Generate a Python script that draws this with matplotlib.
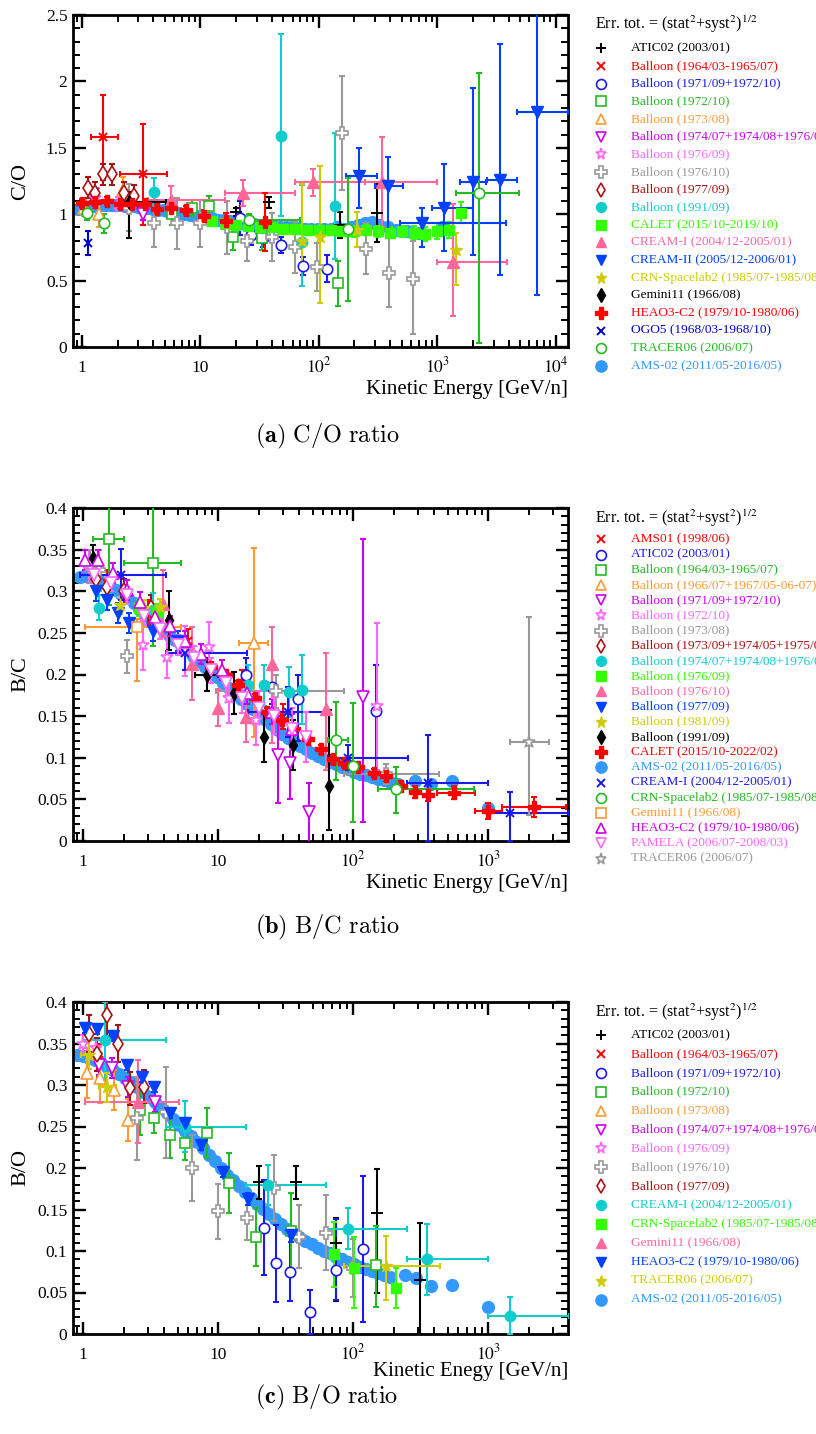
import numpy as np
import matplotlib
matplotlib.use('Agg')
import matplotlib.pyplot as plt
from matplotlib.lines import Line2D
from matplotlib.ticker import LogLocator, MultipleLocator, FuncFormatter, NullFormatter

plt.rcParams['font.family'] = ['Liberation Serif', 'DejaVu Serif']
plt.rcParams['mathtext.fontset'] = 'stix'

# ======================= DATA : C/O =======================
CO_ATIC_E = [20, 38, 150, 310]
CO_ATIC_R = [1.02, 1.09, 0.92, 1.01]
CO_ATIC_ERR = [0.03, 0.04, 0.1, 0.22]

CO_B64_E = [1.5, 3.25]
CO_B64_R = [1.58, 1.30]
CO_B64_ERR = [0.32, 0.38]
CO_B64_XLO = [1.2, 2.09]
CO_B64_XHI = [2.0, 5.2]

CO_B71_E = [21.5, 27, 33.5, 48, 73, 118]
CO_B71_R = [0.97, 0.84, 0.82, 0.77, 0.61, 0.59]
CO_B71_ERR = [0.13, 0.07, 0.07, 0.06, 0.07, 0.1]

CO_B72_E = [5.8, 8.5, 11.8, 18.8, 33, 145]
CO_B72_R = [1.0, 1.05, 1.06, 0.83, 0.82, 0.48]
CO_B72_ERR = [0.08, 0.06, 0.08, 0.1, 0.09, 0.17]

CO_B73_E = [1.05, 1.4, 2.2]
CO_B73_R = [1.05, 1.0, 1.18]
CO_B73_ERR = [0.06, 0.1, 0.1]

CO_B74_E = [1.25, 3.3]
CO_B74_R = [1.15, 1.0]
CO_B74_ERR = [0.04, 0.04]

CO_B76A_E = [1.3, 2.0]
CO_B76A_R = [1.12, 1.08]
CO_B76A_ERR = [0.05, 0.05]

CO_B76B_E = [2.5, 4.05, 6.3, 9.9, 16.7, 24.6, 40, 63, 96, 156, 250, 390, 620]
CO_B76B_R = [1.05, 0.93, 0.93, 0.93, 0.9, 0.8, 0.83, 0.75, 0.6, 1.61, 0.74, 0.56, 0.51]
CO_B76B_ERR = [0.18, 0.18, 0.19, 0.18, 0.2, 0.15, 0.18, 0.19, 0.18, 0.43, 0.19, 0.26, (0.41, 0.29)]

CO_B77_E = [1.13, 1.3, 1.5, 1.8, 2.26, 2.75]
CO_B77_R = [1.2, 1.16, 1.3, 1.3, 1.16, 1.14]
CO_B77_ERR = [0.08, 0.08, 0.08, 0.08, 0.08, 0.08]

CO_B91_E = [4.05, 48, 72, 137]
CO_B91_R = [1.17, 1.59, 0.79, 1.06]
CO_B91_ERR = [0.1, (0.6, 0.77), (0.33, 0.43), (0.4, 0.55)]

CO_CALET_E = [12.5, 16, 20, 25, 32, 40, 50, 63, 79, 100, 126, 158, 200, 251, 316, 398, 501, 631, 794, 1000, 1260, 1600]
CO_CALET_R = [0.95, 0.93, 0.92, 0.91, 0.9, 0.9, 0.89, 0.89, 0.88, 0.88, 0.88, 0.87, 0.87, 0.88, 0.87, 0.86, 0.87, 0.86, 0.85, 0.87, 0.88, 1.01]
CO_CALET_ERR = [0.03, 0.03, 0.03, 0.03, 0.03, 0.03, 0.03, 0.03, 0.03, 0.03, 0.03, 0.03, 0.04, 0.04, 0.04, 0.04, 0.04, 0.05, 0.05, 0.06, 0.06, 0.08]

CO_CREAM1_E = [5.7, 23, 89, 340, 1350]
CO_CREAM1_R = [1.11, 1.16, 1.24, 1.24, 0.64]
CO_CREAM1_ERR = [0.1, 0.1, 0.1, 0.34, (0.41, 0.44)]
CO_CREAM1_XLO = [3.6, 16, 63, 245, 1000]
CO_CREAM1_XHI = [16, 63, 245, 1000, 3900]

CO_CREAM2_E = [220, 380, 740, 1150, 2000, 3400, 7000]
CO_CREAM2_R = [1.29, 1.21, 0.93, 1.05, 1.24, 1.26, 1.77]
CO_CREAM2_ERR = [(0.24, 0.21), (0.33, 0.22), (0.18, 0.12), 0.33, (0.55, 0.71), (0.72, 1.02), (1.38, 1.2)]
CO_CREAM2_XLO = [170, 300, 480, 900, 1550, 2650, 4700]
CO_CREAM2_XHI = [310, 510, 3800, 2000, 2600, 4700, 12800]

CO_CRN_E = [72, 102, 210, 1450]
CO_CRN_R = [0.8, 0.83, 0.88, 0.73]
CO_CRN_ERR = [(0.17, 0.43), (0.5, 0.53), (0.13, 0.14), (0.26, 0.13)]

CO_GEM_E = [2.5]
CO_GEM_R = [1.09]
CO_GEM_ERR = [(0.27, 0.08)]
CO_GEM_XLO = [1.3]
CO_GEM_XHI = [5.1]

CO_HEAO_E = [1.0, 1.29, 1.63, 2.09, 2.64, 3.4, 4.3, 5.7, 7.5, 10.7, 16.4, 35]
CO_HEAO_R = [1.085, 1.09, 1.10, 1.08, 1.08, 1.08, 1.04, 1.05, 1.03, 0.99, 0.95, 0.94]
CO_HEAO_ERR = [0.03, 0.03, 0.03, 0.03, 0.03, 0.03, 0.03, 0.03, 0.03, 0.04, 0.06, 0.22]

CO_OGO_E = [1.13]
CO_OGO_R = [0.78]
CO_OGO_ERR = [0.09]

CO_TRACER_E = [1.1, 1.53, 25.6, 175, 2250]
CO_TRACER_R = [1.01, 0.93, 0.96, 0.89, 1.16]
CO_TRACER_ERR = [0.05, 0.07, 0.04, (0.54, 0.38), (1.13, 0.9)]
CO_TRACER_XLO = [1.1, 1.53, 9.5, 88, 1450]
CO_TRACER_XHI = [1.1, 1.53, 69, 400, 4900]

CO_AMS_E = [0.92, 1.0, 1.1, 1.2, 1.3, 1.45, 1.6, 1.75, 1.9, 2.1, 2.3, 2.5, 2.75, 3.0, 3.3, 3.6, 4.0, 4.4,
            4.9, 5.4, 6.0, 6.6, 7.3, 8.1, 9.0, 10.0, 11.2, 12.6, 14.1, 15.9, 17.8, 20.0, 22.5, 25.3, 28.6,
            32.3, 36.5, 41.2, 46.6, 52.7, 59.6, 67.4, 76.4, 86.6, 98.1, 111, 126, 143, 163, 186, 213, 245,
            282, 325, 380, 450, 550, 700, 1100]
CO_AMS_R = [1.04, 1.05, 1.055, 1.06, 1.065, 1.07, 1.07, 1.07, 1.07, 1.07, 1.065, 1.065, 1.06, 1.055, 1.05,
            1.045, 1.04, 1.035, 1.03, 1.02, 1.015, 1.01, 1.0, 0.995, 0.99, 0.985, 0.975, 0.97, 0.96, 0.955,
            0.95, 0.94, 0.935, 0.93, 0.925, 0.92, 0.915, 0.91, 0.905, 0.9, 0.9, 0.895, 0.89, 0.89, 0.885,
            0.89, 0.885, 0.9, 0.89, 0.9, 0.92, 0.935, 0.94, 0.92, 0.9, 0.88, 0.87, 0.86, 0.9]

# ======================= DATA : B/C =======================
BC_AMS01_E = [1.5, 3.0, 6.0, 15, 30]
BC_AMS01_R = [0.31, 0.275, 0.24, 0.19, 0.15]
BC_AMS01_ERR = [0.015, 0.015, 0.015, 0.015, 0.015]

BC_ATIC_E = [16, 25, 39, 148]
BC_ATIC_R = [0.2, 0.185, 0.17, 0.156]
BC_ATIC_ERR = [0.02, 0.02, (0.05, 0.03), (0.074, 0.055)]

BC_B64_E = [1.56, 3.3]
BC_B64_R = [0.363, 0.334]
BC_B64_ERR = [(0.08, 0.05), (0.1, 0.1)]
BC_B64_XLO = [1.19, 2.02]
BC_B64_XHI = [2.02, 5.3]

BC_B66_E = [18.4]
BC_B66_R = [0.238]
BC_B66_ERR = [(0.113, 0.114)]
BC_B66_XLO = [14.2]
BC_B66_XHI = [23.3]

BC_B71_E = [27.5, 34, 47, 118]
BC_B71_R = [0.103, 0.094, 0.035, 0.173]
BC_B71_ERR = [(0.057, 0.052), (0.044, 0.036), (0.04, 0.035), (0.15, 0.19)]

BC_B72_E = [1.1, 2.75, 4.2, 5.7, 8.5, 12, 19, 150]
BC_B72_R = [0.33, 0.235, 0.221, 0.228, 0.233, 0.172, 0.145, 0.162]
BC_B72_ERR = [0.02, 0.03, 0.025, 0.03, 0.03, 0.03, 0.03, (0.077, 0.1)]

BC_B73A_E = [1.13, 1.3, 2.1, 27, 175]
BC_B73A_R = [0.33, 0.325, 0.222, 0.18, 0.08]
BC_B73A_ERR = [0.02, 0.025, 0.02, 0.02, 0.012]
BC_B73A_XLO = [1.13, 1.3, 2.1, 9.6, 85]
BC_B73A_XHI = [1.13, 1.3, 2.1, 85, 435]

BC_B73B_E = [1.25, 1.5, 2.0, 3.2]
BC_B73B_R = [0.315, 0.305, 0.3, 0.28]
BC_B73B_ERR = [0.015, 0.015, 0.015, 0.015]

BC_B74_E = [1.3, 3.3, 16.6, 22, 33.5, 42]
BC_B74_R = [0.28, 0.278, 0.187, 0.187, 0.179, 0.181]
BC_B74_ERR = [0.015, 0.02, 0.025, 0.025, 0.03, (0.04, 0.042)]

BC_B76A_E = [2.6, 3.5]
BC_B76A_R = [0.28, 0.275]
BC_B76A_ERR = [0.01, 0.01]

BC_B76B_E = [3.9, 6.4, 10, 16, 25, 63]
BC_B76B_R = [0.285, 0.213, 0.16, 0.149, 0.213, 0.158]
BC_B76B_ERR = [0.04, 0.044, 0.022, 0.03, (0.095, 0.044), (0.073, 0.068)]

BC_B77_E = [1.25, 1.5, 1.8, 2.2, 3.3, 5.0]
BC_B77_R = [0.3, 0.29, 0.274, 0.262, 0.252, 0.24]
BC_B77_ERR = [0.012, 0.012, 0.012, 0.012, 0.012, 0.012]

BC_B81_E = [1.88, 2.8, 3.7]
BC_B81_R = [0.283, 0.28, 0.281]
BC_B81_ERR = [0.01, 0.01, 0.01]

BC_B91_E = [1.19, 4.3, 8.3, 13, 22, 36, 66]
BC_B91_R = [0.34, 0.265, 0.2, 0.178, 0.125, 0.115, 0.066]
BC_B91_ERR = [0.015, 0.035, 0.02, 0.025, 0.03, 0.03, (0.053, 0.091)]
BC_B91_XLO = [1.19, 4.3, 6.7, 13, 22, 36, 66]
BC_B91_XHI = [1.19, 4.3, 10, 13, 22, 36, 66]

BC_CALET_E = [8.9, 11.4, 14, 18.6, 23, 29.5, 36.5, 46, 58, 71, 85, 108, 142, 175, 227, 285, 360, 560, 1000, 2200]
BC_CALET_R = [0.209, 0.2, 0.187, 0.172, 0.155, 0.145, 0.134, 0.122, 0.11, 0.098, 0.094, 0.089, 0.082, 0.078,
              0.066, 0.059, 0.055, 0.058, 0.036, 0.041]
BC_CALET_ERR = [0.005, 0.005, 0.005, 0.005, 0.005, 0.005, 0.005, 0.005, 0.005, 0.005, 0.005, 0.005, 0.005,
                0.006, 0.006, 0.007, 0.007, 0.008, 0.01, 0.012]
BC_CALET_XLO = [8.9, 11.4, 14, 18.6, 23, 29.5, 36.5, 46, 58, 71, 85, 108, 142, 175, 227, 285, 360, 420, 800, 1260]
BC_CALET_XHI = [8.9, 11.4, 14, 18.6, 23, 29.5, 36.5, 46, 58, 71, 85, 108, 142, 175, 227, 285, 360, 800, 1260, 3800]

BC_AMS_E = [0.95, 1.05, 1.16, 1.28, 1.42, 1.57, 1.74, 1.92, 2.13, 2.36, 2.61, 2.89, 3.2, 3.54, 3.92, 4.34,
            4.8, 5.31, 5.88, 6.51, 7.2, 7.97, 8.82, 9.76, 10.8, 12, 13.3, 14.7, 16.3, 18, 19.9, 22, 24.4,
            27, 29.9, 33, 36.6, 40.5, 44.8, 49.6, 54.9, 60.8, 67.3, 74.5, 82.5, 91.3, 101, 112, 124, 137,
            152, 168, 186, 215, 285, 380, 535, 1000]
BC_AMS_R = [0.317, 0.318, 0.318, 0.315, 0.31, 0.306, 0.302, 0.297, 0.292, 0.286, 0.279, 0.272, 0.266,
            0.26, 0.254, 0.248, 0.242, 0.236, 0.229, 0.222, 0.216, 0.209, 0.203, 0.197, 0.19, 0.184, 0.177,
            0.171, 0.164, 0.158, 0.152, 0.146, 0.14, 0.135, 0.129, 0.124, 0.119, 0.114, 0.11, 0.106, 0.102,
            0.098, 0.095, 0.092, 0.089, 0.086, 0.083, 0.081, 0.079, 0.077, 0.075, 0.073, 0.071, 0.069,
            0.072, 0.068, 0.072, 0.040]

BC_CREAM1_E = [1.9, 5.7, 33, 92, 360, 1450]
BC_CREAM1_R = [0.32, 0.226, 0.155, 0.1, 0.07, 0.034]
BC_CREAM1_ERR = [0.031, 0.02, 0.03, 0.015, (0.07, 0.057), (0.034, 0.025)]
BC_CREAM1_XLO = [0.95, 4.1, 16.6, 65, 250, 1000]
BC_CREAM1_XHI = [4.1, 16.3, 65, 255, 1000, 4000]

BC_CRN_E = [75, 100, 208]
BC_CRN_R = [0.121, 0.09, 0.062]
BC_CRN_ERR = [(0.048, 0.046), (0.067, 0.076), (0.028, 0.027)]
BC_CRN_XLO = [65, 100, 153]
BC_CRN_XHI = [92, 100, 790]

BC_GEM_E = [2.5]
BC_GEM_R = [0.257]
BC_GEM_ERR = [(0.065, 0.01)]
BC_GEM_XLO = [1.03]
BC_GEM_XHI = [5.3]

BC_HEAO_E = [1.03, 1.29, 1.65, 2.1, 2.65, 3.4, 4.4, 5.7, 7.5, 10.6, 16.2, 25, 35]
BC_HEAO_R = [0.337, 0.338, 0.322, 0.302, 0.287, 0.269, 0.258, 0.24, 0.225, 0.205, 0.178, 0.155, 0.135]
BC_HEAO_ERR = [0.012, 0.012, 0.012, 0.012, 0.012, 0.012, 0.012, 0.012, 0.012, 0.012, 0.014, 0.015, 0.018]

BC_PAM_E = [1.2, 1.6, 2.1, 2.8, 3.7, 5, 6.6, 8.8, 11.5, 15, 20, 26, 35, 45]
BC_PAM_R = [0.32, 0.31, 0.295, 0.27, 0.255, 0.235, 0.22, 0.205, 0.19, 0.172, 0.16, 0.15, 0.135, 0.125]
BC_PAM_ERR = [0.01, 0.01, 0.01, 0.01, 0.012, 0.012, 0.014, 0.015, 0.016, 0.018, 0.02, 0.022, 0.025, 0.03]

BC_TRACER_E = [2000]
BC_TRACER_R = [0.119]
BC_TRACER_ERR = [(0.088, 0.15)]
BC_TRACER_XLO = [1450]
BC_TRACER_XHI = [2800]

# ======================= DATA : B/O =======================
BO_ATIC_E = [20, 38, 74, 150, 310]
BO_ATIC_R = [0.183, 0.183, 0.11, 0.146, 0.065]
BO_ATIC_ERR = [0.02, 0.02, (0.07, 0.03), (0.097, 0.053), (0.065, 0.069)]

BO_B64_E = [1.3]
BO_B64_R = [0.33]
BO_B64_ERR = [0.02]

BO_B71_E = [22, 27, 34, 48, 75, 118]
BO_B71_R = [0.128, 0.085, 0.075, 0.026, 0.077, 0.102]
BO_B71_ERR = [(0.057, 0.058), (0.047, 0.046), (0.035, 0.045), (0.026, 0.027), (0.036, 0.062), (0.087, 0.088)]

BO_B72_E = [2.65, 3.37, 4.4, 5.7, 8.3, 12, 19, 34.5, 148]
BO_B72_R = [0.27, 0.26, 0.24, 0.23, 0.242, 0.182, 0.117, 0.124, 0.083]
BO_B72_ERR = [0.03, 0.018, 0.028, 0.02, 0.03, 0.036, 0.035, 0.046, (0.05, 0.047)]

BO_B73_E = [1.07, 1.34, 1.68, 2.16]
BO_B73_R = [0.314, 0.308, 0.294, 0.258]
BO_B73_ERR = [0.03, 0.03, 0.024, 0.025]

BO_B74_E = [1.3, 1.64, 2.16, 3.4]
BO_B74_R = [0.324, 0.32, 0.298, 0.28]
BO_B74_ERR = [0.012, 0.012, 0.012, 0.012]

BO_B76A_E = [1.0, 1.25]
BO_B76A_R = [0.35, 0.345]
BO_B76A_ERR = [0.01, 0.01]

BO_B76B_E = [2.5, 4.1, 6.35, 10, 16.3, 25.8, 40, 63, 100]
BO_B76B_R = [0.26, 0.267, 0.2, 0.148, 0.14, 0.176, 0.117, 0.122, 0.08]
BO_B76B_ERR = [0.05, 0.055, 0.04, 0.033, 0.027, 0.04, 0.038, 0.045, 0.035]

BO_B77_E = [1.1, 1.27, 1.5, 1.8, 2.23, 2.8]
BO_B77_R = [0.362, 0.337, 0.384, 0.35, 0.296, 0.298]
BO_B77_ERR = [0.022, 0.02, 0.025, 0.022, 0.02, 0.02]

BO_CREAM1_E = [1.44, 5.7, 23.3, 92, 355, 1450]
BO_CREAM1_R = [0.354, 0.25, 0.18, 0.127, 0.09, 0.022]
BO_CREAM1_ERR = [(0.049, 0.046), 0.031, 0.024, 0.025, 0.043, 0.022]
BO_CREAM1_XLO = [1.0, 4.07, 16, 63, 250, 1000]
BO_CREAM1_XHI = [4.07, 16, 63, 250, 1000, 4000]

BO_CRN_E = [72, 102, 208]
BO_CRN_R = [0.096, 0.08, 0.056]
BO_CRN_ERR = [0.039, (0.049, 0.037), (0.025, 0.024)]

BO_GEM_E = [2.56]
BO_GEM_R = [0.28]
BO_GEM_ERR = [0.05]
BO_GEM_XLO = [1.03]
BO_GEM_XHI = [5.1]

BO_HEAO_E = [1.03, 1.27, 1.67, 2.12, 2.74, 3.37, 4.4, 5.7, 7.4, 10.8, 16.6, 34.6]
BO_HEAO_R = [0.369, 0.367, 0.359, 0.324, 0.31, 0.298, 0.266, 0.254, 0.228, 0.195, 0.163, 0.119]
BO_HEAO_ERR = [0.006, 0.006, 0.006, 0.006, 0.006, 0.006, 0.006, 0.006, 0.006, 0.006, 0.007, 0.008]

BO_TRACER_E = [1.1, 1.5, 175]
BO_TRACER_R = [0.336, 0.297, 0.082]
BO_TRACER_ERR = [0.017, 0.017, (0.041, 0.036)]
BO_TRACER_XLO = [0.97, 1.3, 85]
BO_TRACER_XHI = [1.25, 1.75, 440]

BO_AMS_E = [0.9, 1.0, 1.1, 1.22, 1.35, 1.5, 1.66, 1.84, 2.04, 2.26, 2.5, 2.77, 3.07, 3.4, 3.77, 4.18,
            4.63, 5.13, 5.69, 6.3, 6.98, 7.74, 8.57, 9.5, 10.5, 11.7, 12.9, 14.3, 15.9, 17.6, 19.5, 21.6,
            23.9, 26.5, 29.4, 32.6, 36.1, 40, 44.3, 49.1, 54.4, 60.3, 66.8, 74, 82, 91, 101, 112, 124,
            137, 152, 168, 186, 240, 292, 380, 535, 1000]
BO_AMS_R = [0.336, 0.335, 0.333, 0.33, 0.326, 0.322, 0.318, 0.313, 0.309, 0.304, 0.298, 0.292, 0.285,
            0.279, 0.273, 0.266, 0.259, 0.252, 0.245, 0.238, 0.231, 0.224, 0.216, 0.208, 0.2, 0.192, 0.185,
            0.178, 0.171, 0.164, 0.157, 0.151, 0.145, 0.139, 0.133, 0.127, 0.122, 0.117, 0.112, 0.108,
            0.104, 0.1, 0.097, 0.093, 0.09, 0.087, 0.084, 0.081, 0.078, 0.076, 0.073, 0.071, 0.069,
            0.071, 0.067, 0.058, 0.059, 0.033]

# ======================= STYLES =======================
K = '#000000'; RED = '#ff0000'; BLUE = '#1a1aee'; GREEN = '#22bb22'; ORANGE = '#ff9933'
PURPLE = '#cc00ee'; PINK = '#ff66ff'; GREY = '#999999'; DRED = '#aa1111'; CYAN = '#11cccc'
LGREEN = '#33ff00'; ROSE = '#ff6699'; BLUE2 = '#0040ff'; OLIVE = '#cccc00'; AMSB = '#3399ff'
OGOB = '#0000cc'

# marker, facecolor ('white' = open), markersize
ST = {
    'plus': ('+', None, 8), 'x': ('x', None, 6), 'o_open': ('o', 'white', 7.5),
    's_open': ('s', 'white', 7), '^_open': ('^', 'white', 8), 'v_open': ('v', 'white', 8),
    '*_open': ('*', 'white', 9.5), 'P_open': ('P', 'white', 8.5), 'd_open': ('d', 'white', 8),
    'o_fill': ('o', 'fill', 7.5), 's_fill': ('s', 'fill', 7), '^_fill': ('^', 'fill', 8),
    'v_fill': ('v', 'fill', 8), '*_fill': ('*', 'fill', 9.5), 'd_fill': ('d', 'fill', 7),
    'P_fill': ('P', 'fill', 9), 'ams': ('o', 'fill', 8.5),
}

CO_SERIES = [
    ('ATIC02 (2003/01)', CO_ATIC_E, CO_ATIC_R, CO_ATIC_ERR, None, None, K, 'plus'),
    ('Balloon (1964/03-1965/07)', CO_B64_E, CO_B64_R, CO_B64_ERR, CO_B64_XLO, CO_B64_XHI, RED, 'x'),
    ('Balloon (1971/09+1972/10)', CO_B71_E, CO_B71_R, CO_B71_ERR, None, None, BLUE, 'o_open'),
    ('Balloon (1972/10)', CO_B72_E, CO_B72_R, CO_B72_ERR, None, None, GREEN, 's_open'),
    ('Balloon (1973/08)', CO_B73_E, CO_B73_R, CO_B73_ERR, None, None, ORANGE, '^_open'),
    ('Balloon (1974/07+1974/08+1976/09)', CO_B74_E, CO_B74_R, CO_B74_ERR, None, None, PURPLE, 'v_open'),
    ('Balloon (1976/09)', CO_B76A_E, CO_B76A_R, CO_B76A_ERR, None, None, PINK, '*_open'),
    ('Balloon (1976/10)', CO_B76B_E, CO_B76B_R, CO_B76B_ERR, None, None, GREY, 'P_open'),
    ('Balloon (1977/09)', CO_B77_E, CO_B77_R, CO_B77_ERR, None, None, DRED, 'd_open'),
    ('Balloon (1991/09)', CO_B91_E, CO_B91_R, CO_B91_ERR, None, None, CYAN, 'o_fill'),
    ('CALET (2015/10-2019/10)', CO_CALET_E, CO_CALET_R, CO_CALET_ERR, None, None, LGREEN, 's_fill'),
    ('CREAM-I (2004/12-2005/01)', CO_CREAM1_E, CO_CREAM1_R, CO_CREAM1_ERR, CO_CREAM1_XLO, CO_CREAM1_XHI, ROSE, '^_fill'),
    ('CREAM-II (2005/12-2006/01)', CO_CREAM2_E, CO_CREAM2_R, CO_CREAM2_ERR, CO_CREAM2_XLO, CO_CREAM2_XHI, BLUE2, 'v_fill'),
    ('CRN-Spacelab2 (1985/07-1985/08)', CO_CRN_E, CO_CRN_R, CO_CRN_ERR, None, None, OLIVE, '*_fill'),
    ('Gemini11 (1966/08)', CO_GEM_E, CO_GEM_R, CO_GEM_ERR, CO_GEM_XLO, CO_GEM_XHI, K, 'd_fill'),
    ('HEAO3-C2 (1979/10-1980/06)', CO_HEAO_E, CO_HEAO_R, CO_HEAO_ERR, None, None, RED, 'P_fill'),
    ('OGO5 (1968/03-1968/10)', CO_OGO_E, CO_OGO_R, CO_OGO_ERR, None, None, OGOB, 'x'),
    ('TRACER06 (2006/07)', CO_TRACER_E, CO_TRACER_R, CO_TRACER_ERR, CO_TRACER_XLO, CO_TRACER_XHI, GREEN, 'o_open'),
    ('AMS-02 (2011/05-2016/05)', CO_AMS_E, CO_AMS_R, None, None, None, AMSB, 'ams'),
]

BC_SERIES = [
    ('AMS01 (1998/06)', BC_AMS01_E, BC_AMS01_R, BC_AMS01_ERR, None, None, RED, 'x'),
    ('ATIC02 (2003/01)', BC_ATIC_E, BC_ATIC_R, BC_ATIC_ERR, None, None, BLUE, 'o_open'),
    ('Balloon (1964/03-1965/07)', BC_B64_E, BC_B64_R, BC_B64_ERR, BC_B64_XLO, BC_B64_XHI, GREEN, 's_open'),
    ('Balloon (1966/07+1967/05-06-07)', BC_B66_E, BC_B66_R, BC_B66_ERR, BC_B66_XLO, BC_B66_XHI, ORANGE, '^_open'),
    ('Balloon (1971/09+1972/10)', BC_B71_E, BC_B71_R, BC_B71_ERR, None, None, PURPLE, 'v_open'),
    ('Balloon (1972/10)', BC_B72_E, BC_B72_R, BC_B72_ERR, None, None, PINK, '*_open'),
    ('Balloon (1973/08)', BC_B73A_E, BC_B73A_R, BC_B73A_ERR, BC_B73A_XLO, BC_B73A_XHI, GREY, 'P_open'),
    ('Balloon (1973/09+1974/05+1975/09)', BC_B73B_E, BC_B73B_R, BC_B73B_ERR, None, None, DRED, 'd_open'),
    ('Balloon (1974/07+1974/08+1976/09)', BC_B74_E, BC_B74_R, BC_B74_ERR, None, None, CYAN, 'o_fill'),
    ('Balloon (1976/09)', BC_B76A_E, BC_B76A_R, BC_B76A_ERR, None, None, LGREEN, 's_fill'),
    ('Balloon (1976/10)', BC_B76B_E, BC_B76B_R, BC_B76B_ERR, None, None, ROSE, '^_fill'),
    ('Balloon (1977/09)', BC_B77_E, BC_B77_R, BC_B77_ERR, None, None, BLUE2, 'v_fill'),
    ('Balloon (1981/09)', BC_B81_E, BC_B81_R, BC_B81_ERR, None, None, OLIVE, '*_fill'),
    ('Balloon (1991/09)', BC_B91_E, BC_B91_R, BC_B91_ERR, BC_B91_XLO, BC_B91_XHI, K, 'd_fill'),
    ('CALET (2015/10-2022/02)', BC_CALET_E, BC_CALET_R, BC_CALET_ERR, BC_CALET_XLO, BC_CALET_XHI, RED, 'P_fill'),
    ('AMS-02 (2011/05-2016/05)', BC_AMS_E, BC_AMS_R, None, None, None, AMSB, 'ams'),
    ('CREAM-I (2004/12-2005/01)', BC_CREAM1_E, BC_CREAM1_R, BC_CREAM1_ERR, BC_CREAM1_XLO, BC_CREAM1_XHI, BLUE, 'x'),
    ('CRN-Spacelab2 (1985/07-1985/08)', BC_CRN_E, BC_CRN_R, BC_CRN_ERR, BC_CRN_XLO, BC_CRN_XHI, GREEN, 'o_open'),
    ('Gemini11 (1966/08)', BC_GEM_E, BC_GEM_R, BC_GEM_ERR, BC_GEM_XLO, BC_GEM_XHI, ORANGE, 's_open'),
    ('HEAO3-C2 (1979/10-1980/06)', BC_HEAO_E, BC_HEAO_R, BC_HEAO_ERR, None, None, PURPLE, '^_open'),
    ('PAMELA (2006/07-2008/03)', BC_PAM_E, BC_PAM_R, BC_PAM_ERR, None, None, PINK, 'v_open'),
    ('TRACER06 (2006/07)', BC_TRACER_E, BC_TRACER_R, BC_TRACER_ERR, BC_TRACER_XLO, BC_TRACER_XHI, GREY, '*_open'),
]

BO_SERIES = [
    ('ATIC02 (2003/01)', BO_ATIC_E, BO_ATIC_R, BO_ATIC_ERR, None, None, K, 'plus'),
    ('Balloon (1964/03-1965/07)', BO_B64_E, BO_B64_R, BO_B64_ERR, None, None, RED, 'x'),
    ('Balloon (1971/09+1972/10)', BO_B71_E, BO_B71_R, BO_B71_ERR, None, None, BLUE, 'o_open'),
    ('Balloon (1972/10)', BO_B72_E, BO_B72_R, BO_B72_ERR, None, None, GREEN, 's_open'),
    ('Balloon (1973/08)', BO_B73_E, BO_B73_R, BO_B73_ERR, None, None, ORANGE, '^_open'),
    ('Balloon (1974/07+1974/08+1976/09)', BO_B74_E, BO_B74_R, BO_B74_ERR, None, None, PURPLE, 'v_open'),
    ('Balloon (1976/09)', BO_B76A_E, BO_B76A_R, BO_B76A_ERR, None, None, PINK, '*_open'),
    ('Balloon (1976/10)', BO_B76B_E, BO_B76B_R, BO_B76B_ERR, None, None, GREY, 'P_open'),
    ('Balloon (1977/09)', BO_B77_E, BO_B77_R, BO_B77_ERR, None, None, DRED, 'd_open'),
    ('CREAM-I (2004/12-2005/01)', BO_CREAM1_E, BO_CREAM1_R, BO_CREAM1_ERR, BO_CREAM1_XLO, BO_CREAM1_XHI, CYAN, 'o_fill'),
    ('CRN-Spacelab2 (1985/07-1985/08)', BO_CRN_E, BO_CRN_R, BO_CRN_ERR, None, None, LGREEN, 's_fill'),
    ('Gemini11 (1966/08)', BO_GEM_E, BO_GEM_R, BO_GEM_ERR, BO_GEM_XLO, BO_GEM_XHI, ROSE, '^_fill'),
    ('HEAO3-C2 (1979/10-1980/06)', BO_HEAO_E, BO_HEAO_R, BO_HEAO_ERR, None, None, BLUE2, 'v_fill'),
    ('TRACER06 (2006/07)', BO_TRACER_E, BO_TRACER_R, BO_TRACER_ERR, BO_TRACER_XLO, BO_TRACER_XHI, OLIVE, '*_fill'),
    ('AMS-02 (2011/05-2016/05)', BO_AMS_E, BO_AMS_R, None, None, None, AMSB, 'ams'),
]

# ======================= FIGURE =======================
W, H = 816, 1434
fig = plt.figure(figsize=(W / 100, H / 100), dpi=100)


def fx(x):
    return x / W


def fy(y):
    return 1 - y / H


def marker_kw(color, key):
    m, fc, ms = ST[key]
    if fc is None:
        return dict(marker=m, color=color, mec=color, ms=ms, mew=1.4)
    if fc == 'fill':
        return dict(marker=m, color=color, mec=color, mfc=color, ms=ms, mew=1.0)
    return dict(marker=m, color=color, mec=color, mfc=fc, ms=ms, mew=1.2)


def draw_series(ax, E, R, err, xlo, xhi, color, key, z):
    E = np.asarray(E, float)
    R = np.asarray(R, float)
    if err is not None:
        lo = np.array([e[0] if isinstance(e, tuple) else e for e in err])
        hi = np.array([e[1] if isinstance(e, tuple) else e for e in err])
        ax.errorbar(E, R, yerr=[lo, hi], fmt='none', ecolor=color, elinewidth=1.5,
                    capsize=2.2, capthick=1.5, zorder=z)
    if xlo is not None:
        xl = np.asarray(xlo, float)
        xh = np.asarray(xhi, float)
        m = xh > xl
        if m.any():
            ax.errorbar(E[m], R[m], xerr=[E[m] - xl[m], xh[m] - E[m]], fmt='none', ecolor=color,
                        elinewidth=1.5, capsize=2.2, capthick=1.5, zorder=z)
    ax.plot(E, R, ls='none', zorder=z + 0.5, **marker_kw(color, key))


def xfmt(v, pos):
    if abs(v - 1) < 1e-9:
        return '1'
    if abs(v - 10) < 1e-9:
        return '10'
    return r'$10^{%d}$' % int(round(np.log10(v)))


def make_panel(top, bottom, xmax, ymax, ymajor, yminor, ylabel, xlabel, xlab_off, series,
               leg_title_y, leg_y0, leg_dy, caption, cap_y):
    left, right = 73, 568
    ax = fig.add_axes([fx(left), fy(bottom), (right - left) / W, (bottom - top) / H])
    ax.set_xscale('log')
    ax.set_xlim(0.84, xmax)
    ax.set_ylim(0, ymax)
    for i, (lab, E, R, err, xlo, xhi, col, key) in enumerate(series):
        z = 2 if lab.startswith('AMS-02') else 3 + i * 0.01
        draw_series(ax, E, R, err, xlo, xhi, col, key, z)

    ax.xaxis.set_major_locator(LogLocator(base=10, numticks=10))
    ax.xaxis.set_minor_locator(LogLocator(base=10, subs=np.arange(2, 10), numticks=50))
    ax.xaxis.set_major_formatter(FuncFormatter(xfmt))
    ax.xaxis.set_minor_formatter(NullFormatter())
    ax.yaxis.set_major_locator(MultipleLocator(ymajor))
    ax.yaxis.set_minor_locator(MultipleLocator(yminor))
    ax.yaxis.set_major_formatter(FuncFormatter(lambda v, p: '%g' % round(v, 3)))
    ax.tick_params(which='both', direction='in', top=True, right=True, labelsize=12.5)
    ax.tick_params(which='major', length=9, width=1.7)
    ax.tick_params(which='minor', length=5, width=1.4)
    ax.tick_params(axis='x', which='major', pad=18)
    ax.tick_params(axis='y', which='major', pad=4)
    for lbl in ax.get_xticklabels():
        lbl.set_verticalalignment('baseline')
    for s in ax.spines.values():
        s.set_linewidth(2.0)
    hpx = bottom - top
    ax.set_xlabel(xlabel, fontsize=15, ha='right', va='baseline')
    ax.xaxis.set_label_coords(1.0, -xlab_off / hpx)
    ax.set_ylabel(ylabel, fontsize=16, va='center')
    ax.yaxis.set_label_coords(-(left - 21) / (right - left), 0.5)

    # legend drawn in figure pixel positions
    fig.text(fx(595), fy(leg_title_y), r'Err. tot. = (stat$^{2}$+syst$^{2}$)$^{1/2}$',
             fontsize=11.5, va='center', ha='left')
    for i, (lab, E, R, err, xlo, xhi, col, key) in enumerate(series):
        yy = leg_y0 + i * leg_dy
        kw = marker_kw(col, key)
        kw['ms'] = min(kw['ms'], 8.5) * 0.95
        fig.add_artist(Line2D([fx(601)], [fy(yy)], transform=fig.transFigure, ls='none', **kw))
        fig.text(fx(631), fy(yy), lab, color=col, fontsize=9.6, va='center', ha='left')

    fig.text(fx(327), fy(cap_y), caption, fontsize=17.5, ha='center', va='center', math_fontfamily='cm')
    return ax


make_panel(15, 347, 12700, 2.5, 0.5, 0.1, 'C/O', 'Kinetic Energy [GeV/n]', 47, CO_SERIES,
           24, 48.3, 17.65, r'$\mathbf{(a)}\ \mathrm{C/O\ ratio}$', 436)
make_panel(508, 841, 3900, 0.4, 0.05, 0.01, 'B/C', 'Kinetic Energy [GeV/n]', 47, BC_SERIES,
           518, 539.3, 15.2, r'$\mathbf{(b)}\ \mathrm{B/C\ ratio}$', 927)
make_panel(1002, 1334, 3900, 0.4, 0.05, 0.01, 'B/O', 'Kinetic Enegy [GeV/n]', 42, BO_SERIES,
           1012, 1035, 18.9, r'$\mathbf{(c)}\ \mathrm{B/O\ ratio}$', 1397)

fig.savefig('out.png', dpi=100)
